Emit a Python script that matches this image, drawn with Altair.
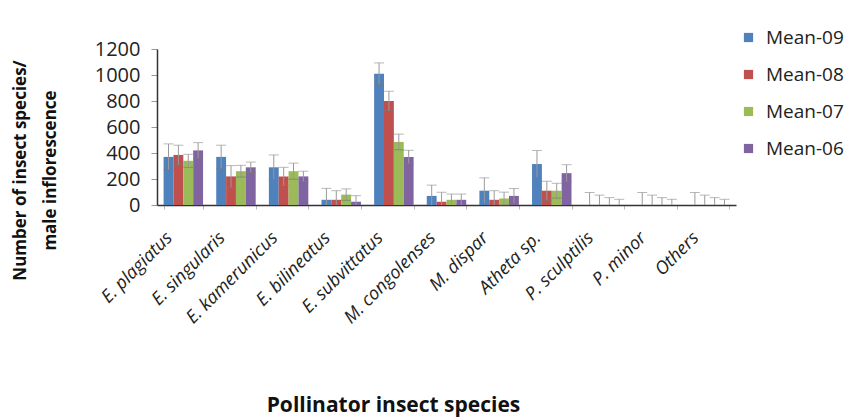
import altair as alt
import pandas as pd

species = ["E. plagiatus", "E. singularis", "E. kamerunicus", "E. bilineatus",
           "E. subvittatus", "M. congolenses", "M. dispar", "Atheta sp.",
           "P. sculptilis", "P. minor", "Others"]
series = ["Mean-09", "Mean-08", "Mean-07", "Mean-06"]
colors = ["#4F81BD", "#C0504D", "#9BBB59", "#8064A2"]

mean_09 = [370, 370, 290, 40, 1010, 70, 110, 315, 0, 0, 0]
mean_08 = [385, 220, 220, 40, 800, 25, 40, 110, 0, 0, 0]
mean_07 = [340, 260, 260, 80, 485, 40, 50, 110, 0, 0, 0]
mean_06 = [420, 290, 220, 25, 370, 40, 70, 245, 0, 0, 0]

err_09 = [100, 90, 95, 88, 83, 83, 99, 104, 96, 96, 96]
err_08 = [75, 83, 70, 70, 75, 73, 70, 73, 76, 76, 76]
err_07 = [50, 45, 62, 44, 60, 44, 49, 57, 57, 57, 57]
err_06 = [60, 40, 40, 47, 52, 44, 57, 65, 44, 44, 44]

rows = []
for name, vals, errs in zip(series, [mean_09, mean_08, mean_07, mean_06],
                            [err_09, err_08, err_07, err_06]):
    for sp, v, e in zip(species, vals, errs):
        rows.append({"species": sp, "series": name, "value": v,
                     "lo": max(0, v - e), "hi": v + e})
df = pd.DataFrame(rows)

FONT = "Open Sans"

x = alt.X("species:N", sort=species, title="Pollinator insect species",
          scale=alt.Scale(paddingInner=0.25, paddingOuter=0.125),
          axis=alt.Axis(labelAngle=-45, labelAlign="right", labelBaseline="middle",
                        labelFont=FONT, labelFontStyle="italic", labelFontSize=18,
                        labelColor="#222", labelPadding=26, labelOffset=-14,
                        labelOverlap=False,
                        tickBand="extent", tickColor="#bbb", tickSize=4,
                        domainColor="#333", domainWidth=1.5,
                        titleFont=FONT, titleFontSize=21, titleFontWeight="bold",
                        titleColor="#111", titleX=236, titleY=200,
                        titleBaseline="middle"))
xoff = alt.XOffset("series:N", sort=series)
y_scale = alt.Scale(domain=[0, 1200])
y_axis = alt.Axis(values=[0, 200, 400, 600, 800, 1000, 1200], grid=False,
                  format="d", labelOverlap=False,
                  labelFont=FONT, labelFontSize=20, labelColor="#222",
                  labelPadding=11,
                  tickColor="#999", tickSize=6, domainColor="#333",
                  domainWidth=1.5,
                  titleFont=FONT, titleFontSize=17, titleFontWeight="bold",
                  titleColor="#111", titleX=-128, titleY=121,
                  titleLineHeight=30)
y_title = ["Number of insect species/", "male inflorescence"]

bars = alt.Chart(df).mark_bar().encode(
    x=x, xOffset=xoff,
    y=alt.Y("value:Q", scale=y_scale, title=y_title, axis=y_axis),
    color=alt.Color("series:N", sort=series,
                    scale=alt.Scale(domain=series, range=colors),
                    legend=alt.Legend(title=None, orient="none", legendX=582,
                                      legendY=-21, symbolType="square",
                                      symbolSize=85, symbolStrokeWidth=0,
                                      labelFont=FONT, labelFontSize=19,
                                      labelColor="#222", rowPadding=17,
                                      labelOffset=8)),
)

rules = alt.Chart(df).mark_rule(color="#9a9a9a", strokeWidth=1).encode(
    x=x, xOffset=xoff,
    y=alt.Y("lo:Q", scale=y_scale, title=y_title, axis=y_axis), y2="hi:Q")

caps_hi = alt.Chart(df).mark_tick(color="#9a9a9a", thickness=1, size=10).encode(
    x=x, xOffset=xoff,
    y=alt.Y("hi:Q", scale=y_scale, title=y_title, axis=y_axis))
caps_lo = alt.Chart(df[df["lo"] > 0]).mark_tick(color="#7a7a7a", thickness=1, size=10).encode(
    x=x, xOffset=xoff,
    y=alt.Y("lo:Q", scale=y_scale, title=y_title, axis=y_axis))

chart = alt.layer(bars, rules, caps_hi, caps_lo).properties(
    width=579, height=156,
    autosize=alt.AutoSizeParams(type="none"),
    padding={"left": 157, "top": 49, "right": 120, "bottom": 215},
    background="white",
).configure_view(stroke=None)

chart.save("out.html", embed_options={"renderer": "svg", "actions": False})
